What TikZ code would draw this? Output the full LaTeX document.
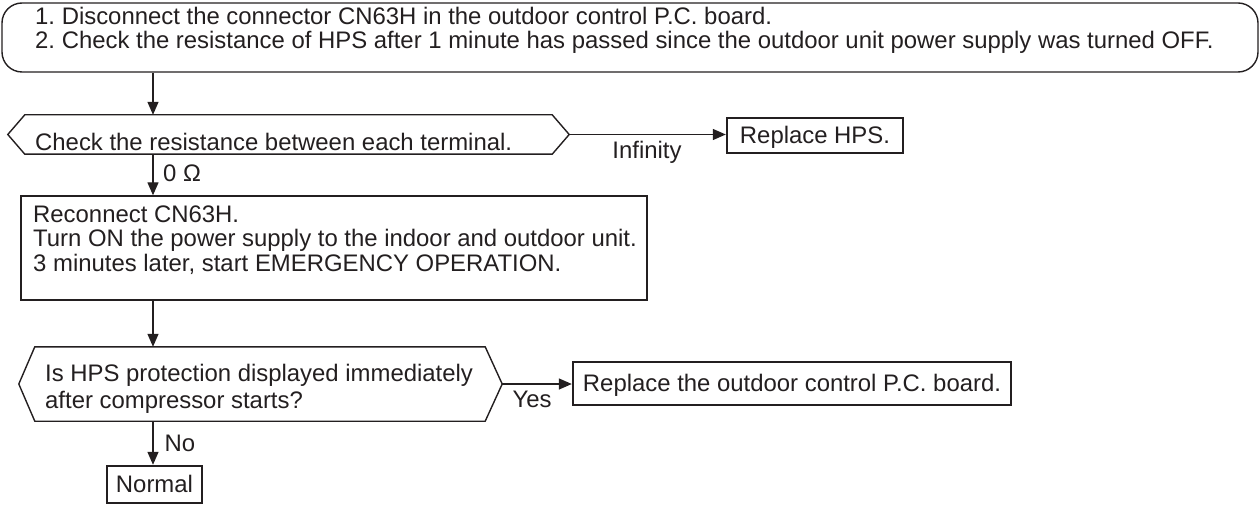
\documentclass[tikz,border=0pt]{standalone}
\usepackage{fontspec}
\setmainfont{Liberation Sans}
\usetikzlibrary{arrows.meta}
\definecolor{ink}{RGB}{35,31,32}
\frenchspacing
\begin{document}
\begin{tikzpicture}[x=1pt,y=-1pt,
  every node/.style={text=ink,font=\fontsize{23.9}{24.5}\selectfont},
  thinbox/.style={draw=ink,line width=1.4pt,inner sep=0pt},
  thickbox/.style={draw=ink,line width=2.4pt,inner sep=0pt,text height=17pt,text depth=1pt},
  body/.style={inner sep=0pt},
  arr/.style={draw=ink,line width=1.4pt,-{Triangle[length=13pt,width=11pt]}},
  lbl/.style={inner sep=0pt}]
\useasboundingbox (0,0) rectangle (1260,505);
\coordinate (spine) at (153,0);
% top box
\node[thinbox,rounded corners=20pt,minimum width=1256pt,minimum height=69pt] (top) at (630,37.5) {};
\node[lbl,anchor=west,align=left,font=\fontsize{23.9}{24}\selectfont] (toptext) at (35,30)
  {1. Disconnect the connector CN63H in the outdoor control P.C. board.\\
   2. Check the resistance of HPS after 1 minute has passed since the outdoor unit power supply was turned OFF.};
% decision 1
\node[body,minimum width=527pt,minimum height=39pt] (d1) at (288.5,134.5) {};
\draw[ink,line width=1.4pt] (d1.north west) -- (d1.north east) -- ([xshift=17pt]d1.east) coordinate (d1r)
  -- (d1.south east) -- (d1.south west) -- ([xshift=-17pt]d1.west) -- cycle;
\node[lbl,anchor=west] (d1t) at (35,142) {Check the resistance between each terminal.};
% replace HPS
\node[thickbox,minimum width=176pt,minimum height=35pt] (rhps) at (815,135.5) {Replace HPS.};
\draw[arr] (d1r) -- (rhps.west |- d1r);
\node[lbl] (inf) at (647,152) {Infinity};
% reconnect box
\node[thinbox,minimum width=626pt,minimum height=104pt] (rec) at (334,248) {};
\node[lbl,anchor=west,align=left] (rectext) at (33,240)
  {Reconnect CN63H.\\Turn ON the power supply to the indoor and outdoor unit.\\3 minutes later, start EMERGENCY OPERATION.};
\draw[arr] (d1.south -| spine) -- (rec.north -| spine);
\node[lbl] (ohm) at (182,173) {0 Ω};
% decision 2
\node[body,minimum width=450pt,minimum height=74pt] (d2) at (260,384) {};
\draw[ink,line width=1.4pt] (d2.north west) -- (d2.north east) -- ([xshift=17pt]d2.east) coordinate (d2r)
  -- (d2.south east) -- (d2.south west) -- ([xshift=-16pt]d2.west) -- cycle;
\node[lbl,anchor=west,align=left,font=\fontsize{23.9}{26.5}\selectfont] (d2t) at (45,389)
  {Is HPS protection displayed immediately\\after compressor starts?};
\draw[arr] (rec.south -| spine) -- (d2.north -| spine);
% replace board
\node[thickbox,minimum width=438pt,minimum height=43pt] (rpcb) at (792,383.5) {Replace the outdoor control P.C. board.};
\draw[arr] (d2r) -- (rpcb.west |- d2r);
\node[lbl] (yes) at (532,399) {Yes};
% normal
\node[thickbox,minimum width=95pt,minimum height=37pt] (norm) at (154.5,484.5) {Normal};
\draw[arr] (d2.south -| spine) -- (norm.north -| spine);
\node[lbl] (no) at (180,443) {No};
\draw[arr] (top.south -| spine) -- (d1.north -| spine);
\end{tikzpicture}
\end{document}
